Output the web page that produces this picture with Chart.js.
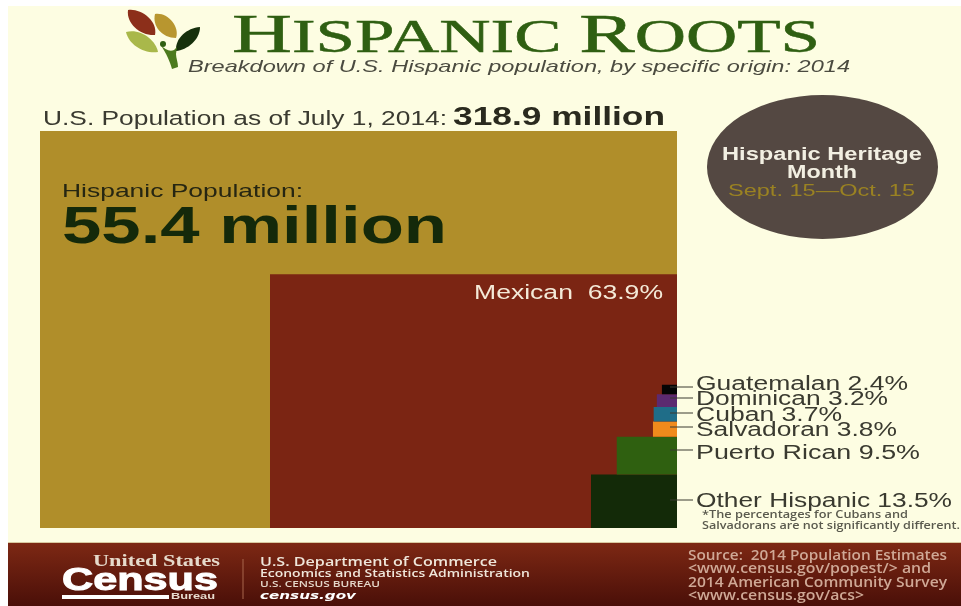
<!DOCTYPE html>
<html lang="en">
<head>
<meta charset="utf-8">
<title>Hispanic Roots</title>
<script src="https://cdn.jsdelivr.net/npm/chart.js@4/dist/chart.umd.min.js"></script>
<style>
  html, body { margin: 0; padding: 0; background: #fff; width: 961px; height: 606px; overflow: hidden; }
  #paper { position: absolute; left: 8px; top: 6px; width: 953px; height: 600px; background: #fdfde2; }
  #band { position: absolute; left: 8px; top: 542px; width: 953px; height: 64px;
          background: linear-gradient(#7d2814, #4a0f08); border-top: 1px solid #d9c9a0; box-sizing: border-box; }
  #wrap { position: absolute; left: 0; top: 0; width: 961px; height: 606px; }
  svg { position: absolute; left: 0; top: 0; }
</style>
</head>
<body>
<div id="paper"></div>
<div id="band"></div>
<div id="wrap"><canvas id="chart" width="961" height="606"></canvas></div>
<svg id="art" width="961" height="606" xmlns="http://www.w3.org/2000/svg"></svg>
<script>
// Share of the Hispanic population by origin, bottom of the stack first
const stackOrigins = ["Other Hispanic", "Puerto Rican", "Salvadoran", "Cuban", "Dominican", "Guatemalan"];
const stackShares  = [13.5, 9.5, 3.8, 3.7, 3.2, 2.4];
const stackColors  = ["#132a08", "#2f6010", "#f08a1c", "#1f6d88", "#5c2a70", "#050505"];

const largestOrigin = "Mexican";
const largestShare  = 63.9;
const wholeShare    = 100;
const usPopulation  = "318.9 million";
const hispanicPopulation = "55.4 million";

// Baseline of each stack label and height of its leader line, in stack order
const labelBaselines = [507, 459, 436, 421, 405, 390];
const leaderHeights  = [500, 450, 427, 413, 398, 387];
const labelRightEdges = [952, 920, 897, 842, 888, 908];

// A filled band on the value scales: spans [100 - width, 100] and [base, top]
function band(label, width, base, top, color) {
  return {
    label,
    data: [{ x: wholeShare - width, y: top }, { x: wholeShare, y: top }],
    showLine: true,
    borderWidth: 0,
    pointRadius: 0,
    backgroundColor: color,
    borderColor: color,
    fill: { value: base }
  };
}

// Chart.js paints the first dataset last, so the smallest bands come first
const datasets = [];
let runningTop = 0;
stackOrigins.forEach((origin, i) => {
  datasets.unshift(band(origin, stackShares[i], runningTop, runningTop + stackShares[i], stackColors[i]));
  runningTop += stackShares[i];
});
datasets.push(band(largestOrigin, largestShare, 0, largestShare, "#7b2513"));
datasets.push(band("Hispanic Population", wholeShare, 0, wholeShare, "#b08e2a"));

const chart = new Chart(document.getElementById("chart"), {
  type: "scatter",
  data: { datasets },
  options: {
    responsive: false,
    animation: false,
    layout: { padding: { left: 40, right: 284, top: 131, bottom: 78 } },
    plugins: { legend: { display: false }, tooltip: { enabled: false } },
    scales: {
      x: { type: "linear", min: 0, max: wholeShare, display: false },
      y: { type: "linear", min: 0, max: wholeShare, display: false }
    }
  }
});

// Text and artwork around the plot
const NS = "http://www.w3.org/2000/svg";
const art = document.getElementById("art");
const SANS = "'Liberation Sans', Arial, sans-serif";
const SERIF = "'Liberation Serif', serif";
const OPEN = "'Open Sans', sans-serif";

function el(name, attrs, parent) {
  const node = document.createElementNS(NS, name);
  Object.keys(attrs).forEach(k => node.setAttribute(k, attrs[k]));
  (parent || art).appendChild(node);
  return node;
}
function text(str, x1, x2, baseline, size, fill, family, weight, slant) {
  const node = el("text", {
    x: x1, y: baseline, "font-size": size, fill,
    "font-family": family || SANS,
    "font-weight": weight || "normal",
    "font-style": slant || "normal",
    textLength: x2 - x1,
    lengthAdjust: "spacingAndGlyphs"
  });
  node.textContent = str;
  return node;
}

// Masthead
const title = el("text", {
  x: 232, y: 52, fill: "#2f5f12", stroke: "#2f5f12", "stroke-width": 0.5, "font-family": SERIF,
  textLength: 588, lengthAdjust: "spacingAndGlyphs"
});
[["H", 55], ["ISPANIC ", 47], ["R", 55], ["OOTS", 47]].forEach(([s, size]) => {
  el("tspan", { "font-size": size }, title).textContent = s;
});
text("Breakdown of U.S. Hispanic population, by specific origin: 2014", 188, 850, 72, 17, "#4b4b40", SANS, "normal", "italic");

// Sprig of leaves beside the masthead
el("path", { d: "M128 10 C140 8 158 20 155 35 C141 36 126 24 128 10 Z", fill: "#8c2f1a" });
el("path", { d: "M155 14 C168 12 180 27 176 38 C162 38 152 26 155 14 Z", fill: "#b8962f" });
el("path", { d: "M126 32 C140 28 156 40 158 52 C144 54 129 45 126 32 Z", fill: "#a9b84a" });
el("path", { d: "M200 27 C200 40 187 50 176 51 C175 38 187 28 200 27 Z", fill: "#16300c" });
el("path", { d: "M160 44 C165 50 170 52 174 50 L177 47 L176 54 C176 58 178 62 178 67 L172 69 C170 62 167 54 160 44 Z", fill: "#4c7a1e" });
el("circle", { cx: 163, cy: 44, r: 3, fill: "#2f5f12" });

// Population headline
text("U.S. Population as of July 1, 2014:", 43, 447, 125, 20.5, "#3a3a30");
text(usPopulation, 453, 665, 125, 25, "#2a2a1e", SANS, "bold");
text("Hispanic Population:", 62, 303, 197, 19, "#262612");
text(hispanicPopulation, 62, 447, 243, 52, "#14290a", SANS, "bold");

// Heritage month badge
el("ellipse", { cx: 822.5, cy: 167, rx: 115.5, ry: 72, fill: "#544842" });
text("Hispanic Heritage", 722, 922, 160, 17.5, "#f2efe2", SANS, "bold");
text("Month", 787, 857, 178, 17.5, "#f2efe2", SANS, "bold");
text("Sept. 15\u2014Oct. 15", 728, 915, 196, 17, "#9a8222");

// Labels tied to the plot
const sx = chart.scales.x;
const leaderEnd = 693;
text(largestOrigin + "\u00a0\u00a0" + largestShare.toFixed(1) + "%", 474, 663, 299, 20, "#f4ead8");
stackOrigins.forEach((origin, i) => {
  const start = sx.getPixelForValue(wholeShare) - 7;
  el("line", { x1: start, x2: leaderEnd, y1: leaderHeights[i], y2: leaderHeights[i], stroke: "#3a3a30", "stroke-width": 1 });
  text(origin + " " + stackShares[i].toFixed(1) + "%", 696, labelRightEdges[i], labelBaselines[i], 20, "#3a3a30");
});
text("*The percentages for Cubans and", 702, 908, 518, 10.5, "#5a5a4e", OPEN, "600");
text("Salvadorans are not significantly different.", 702, 960, 529, 10.5, "#5a5a4e", OPEN, "600");

// Footer: bureau wordmark
text("United States", 93, 220, 566, 16, "#e6dacb", SERIF, "bold");
const census = text("Census", 62, 218, 590, 31, "#ffffff", SANS, "bold");
census.setAttribute("stroke", "#ffffff");
census.setAttribute("stroke-width", "1");
el("rect", { x: 62, y: 595, width: 107, height: 4, fill: "#ffffff" });
text("Bureau", 171, 215, 599, 9.5, "#e8dccf", SANS, "bold");
el("line", { x1: 243, x2: 243, y1: 559, y2: 599, stroke: "#a8664c", "stroke-width": 1 });

// Footer: department block
text("U.S. Department of Commerce", 260, 497, 566, 13, "#efe6da", OPEN, "600");
text("Economics and Statistics Administration", 260, 530, 577, 10.5, "#efe6da", OPEN, "600");
text("U.S. CENSUS BUREAU", 260, 380, 587, 8.5, "#e4d6c8", OPEN, "600");
text("census.gov", 260, 356, 599, 11, "#ffffff", "'DejaVu Sans', sans-serif", "bold", "italic");

// Footer: source note
const sourceColor = "#cfa896";
text("Source:\u00a0\u00a02014 Population Estimates", 688, 947, 560, 13.5, sourceColor, OPEN, "600");
text("<www.census.gov/popest/> and", 688, 931, 573, 13.5, sourceColor, OPEN, "600");
text("2014 American Community Survey", 688, 947, 587, 13.5, sourceColor, OPEN, "600");
text("<www.census.gov/acs>", 688, 864, 600, 13.5, sourceColor, OPEN, "600");
</script>
</body>
</html>
